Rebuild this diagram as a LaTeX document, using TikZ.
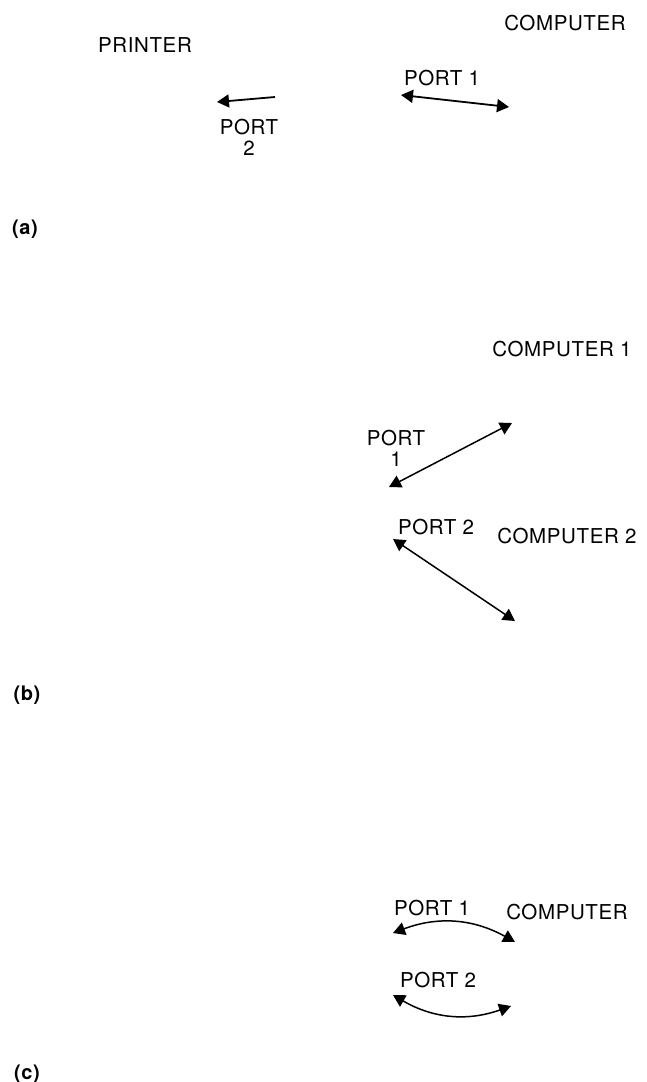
\documentclass[tikz,border=0pt]{standalone}
\usepackage{fontspec}
\setmainfont{TeX Gyre Heros}[LetterSpace=3]
\usepackage{tikz}
\usetikzlibrary{arrows.meta,positioning}

\begin{document}
\begin{tikzpicture}[x=1pt,y=-1pt, every node/.style={font=\fontsize{20.5}{21}\selectfont,align=center,inner sep=0pt},
 dev/.style={},
 port/.style={},
 tag/.style={font=\fontsize{20}{21}\selectfont\bfseries},
 link/.style={line width=1.5pt,{Triangle[length=12pt,width=13pt]}-{Triangle[length=12pt,width=13pt]}},
 oneway/.style={line width=1.8pt,-{Triangle[length=12pt,width=13pt]}}]
\useasboundingbox (0,0) rectangle (647,1082);
% (a) one computer, one printer
\node[dev] (cpuA) at (565,23) {COMPUTER};
\node[dev] (prn) at (145,45) {PRINTER};
\node[port] (pA1) at (442,78) {PORT 1};
\node[port] (pA2) at (249,137) {PORT\\2};
\coordinate (a1s) at (401,95); \coordinate (a1e) at (509,107);
\coordinate (a2s) at (275,97); \coordinate (a2e) at (217,102);
\draw[link,line width=1.8pt] (a1s) -- (a1e);
\draw[oneway] (a2s) -- (a2e);
\node[tag] (lblA) at (25,229) {(a)};
% (b) two computers
\node[dev] (cpuB1) at (562,349) {COMPUTER 1};
\node[port] (pB1) at (396,448) {PORT\\1};
\node[port] (pB2) at (436,527) {PORT 2};
\node[dev] (cpuB2) at (567,536) {COMPUTER 2};
\coordinate (b1s) at (389,487); \coordinate (b1e) at (512,423);
\coordinate (b2s) at (393,539); \coordinate (b2e) at (515,621);
\draw[link] (b1s) -- (b1e);
\draw[link] (b2s) -- (b2e);
\node[tag] (lblB) at (27,695) {(b)};
% (c) two ports, one computer
\node[port] (pC1) at (432,908) {PORT 1};
\node[dev] (cpuC) at (567,912) {COMPUTER};
\node[port] (pC2) at (438,980) {PORT 2};
\coordinate (c1s) at (393,933); \coordinate (c1e) at (515,942);
\coordinate (c2s) at (393,995); \coordinate (c2e) at (511,1006);
\draw[link] (c1s) to[bend left=25] (c1e);
\draw[link] (c2s) to[bend right=25] (c2e);
\node[tag] (lblC) at (27,1074) {(c)};
\end{tikzpicture}
\end{document}
